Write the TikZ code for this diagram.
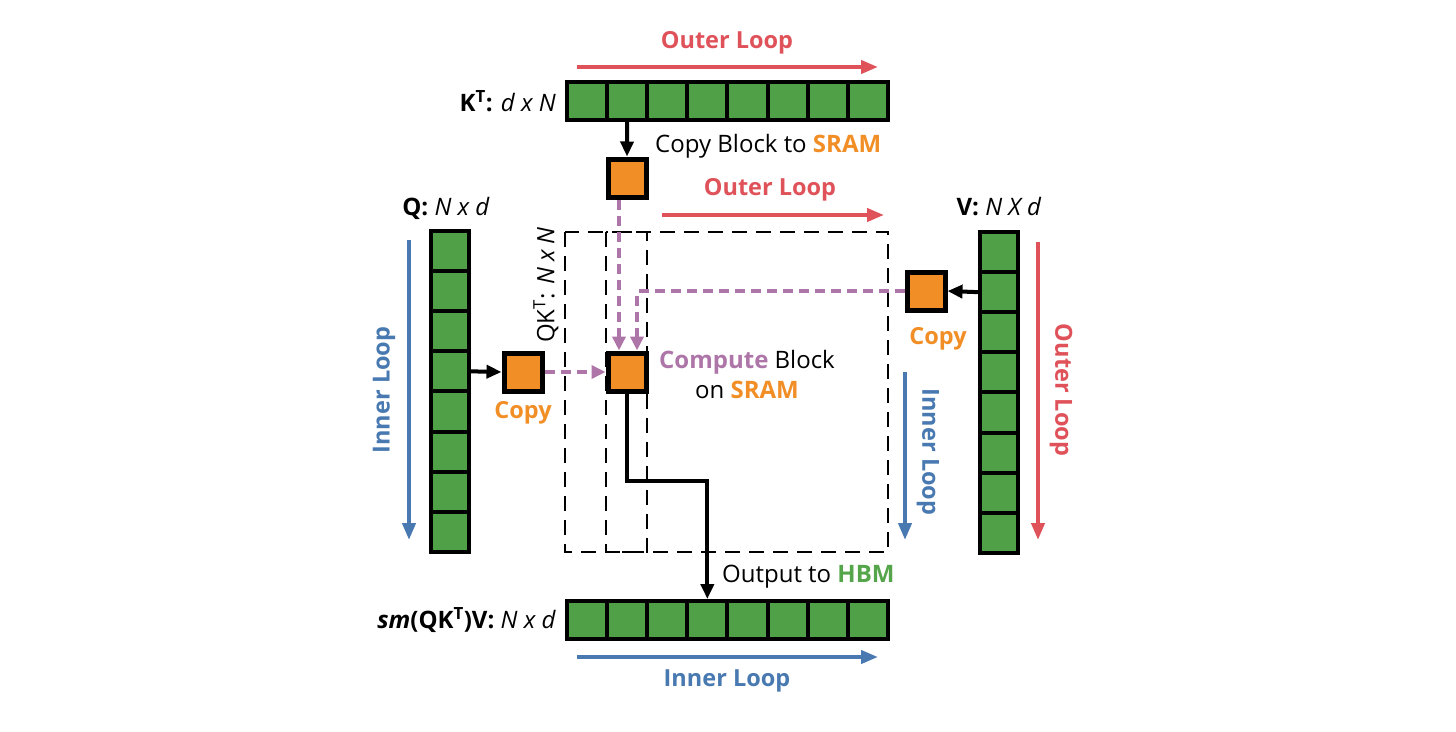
\documentclass[tikz,border=0pt]{standalone}
\usepackage{fontspec}
\setmainfont{Open Sans}
\usetikzlibrary{arrows.meta,calc}
\definecolor{cgreen}{RGB}{80,160,72}
\definecolor{corange}{RGB}{242,142,38}
\definecolor{cred}{RGB}{224,82,90}
\definecolor{cblue}{RGB}{73,121,177}
\definecolor{cpurple}{RGB}{174,118,168}
\definecolor{ctgreen}{RGB}{85,165,75}
\tikzset{
  hcell/.style={draw=black, fill=cgreen, line width=4pt, minimum width=40.1pt, minimum height=38pt, inner sep=0pt},
  vcell/.style={draw=black, fill=cgreen, line width=4pt, minimum width=38pt, minimum height=40.1pt, inner sep=0pt},
  sq/.style={draw=black, fill=corange, line width=5pt, minimum size=38pt, inner sep=0pt},
  conn/.style={draw=black, line width=4pt, -{Triangle[length=15pt,width=13pt]}},
  pdash/.style={draw=cpurple, line width=4.5pt, dash pattern=on 10pt off 6pt, -{Triangle[length=14pt,width=13pt]}},
  bdash/.style={draw=black, line width=2.2pt, dash pattern=on 15pt off 9pt},
  loopred/.style={draw=cred, line width=4pt, -{Triangle[length=17pt,width=13pt]}},
  loopblue/.style={draw=cblue, line width=4pt, -{Triangle[length=17pt,width=13pt]}},
  lbl/.style={font=\fontsize{24}{30}\selectfont, inner sep=0pt},
  blbl/.style={font=\fontsize{23.5}{30}\selectfont\bfseries, inner sep=0pt},
}
\begin{document}
\begin{tikzpicture}[x=1pt,y=-1pt]
\useasboundingbox[fill=white] (0,0) rectangle (1456,731);

% dashed QK^T regions
\draw[bdash] (565,232) rectangle (888,552);
\draw[bdash] (606,232) rectangle (647,552);

% bars
\foreach \i in {1,...,8} {
  \node[hcell] (k\i) at ({567+40.1*(\i-0.5)},101) {};
  \node[hcell] (o\i) at ({567+40.1*(\i-0.5)},620) {};
  \node[vcell] (q\i) at (450,{231+40.1*(\i-0.5)}) {};
  \node[vcell] (v\i) at (999,{232+40.1*(\i-0.5)}) {};
}

% SRAM blocks
\node[sq] (kc) at (627,178) {};
\node[sq] (qc) at (523,372) {};
\node[sq] (cb) at (627,372) {};
\node[sq] (vc) at (926,291) {};

% connectors
\draw[conn] (k2.south) -- (kc.north);
\draw[conn] (q4.east) -- (qc.west);
\draw[conn] (v2.west) -- (vc.east);
\draw[pdash] ($(kc.south)+(-8,0)$) -- ($(cb.north)+(-8,0)$);
\draw[pdash] (vc.west) -| ($(cb.north)+(10,0)$);
\draw[pdash] (qc.east) -- (cb.west);
\draw[conn] (cb.south) -- ++(0,87) -| (o4.north);

% loop arrows
\coordinate (t1a) at (577,67); \coordinate (t1b) at (878,67);
\draw[loopred] (t1a) -- (t1b);
\coordinate (t2a) at (662,215); \coordinate (t2b) at (884,215);
\draw[loopred] (t2a) -- (t2b);
\coordinate (r1a) at (1038,242); \coordinate (r1b) at (1038,540);
\draw[loopred] (r1a) -- (r1b);
\coordinate (l1a) at (409,240); \coordinate (l1b) at (409,540);
\draw[loopblue] (l1a) -- (l1b);
\coordinate (i1a) at (905,372); \coordinate (i1b) at (905,540);
\draw[loopblue] (i1a) -- (i1b);
\coordinate (b1a) at (577,657); \coordinate (b1b) at (878,657);
\draw[loopblue] (b1a) -- (b1b);

% labels
\node[blbl, text=cred] (tOuter1) at (727,43) {Outer Loop};
\node[blbl, text=cred] (tOuter2) at (770,190) {Outer Loop};
\node[blbl, text=cred, rotate=-90] (tOuter3) at (1061,390) {Outer Loop};
\node[blbl, text=cblue, rotate=90] (tInner1) at (384,390) {Inner Loop};
\node[blbl, text=cblue, rotate=-90] (tInner2) at (928,452) {Inner Loop};
\node[blbl, text=cblue] (tInner3) at (727,681) {Inner Loop};

\node[lbl, anchor=east] (tK) at (556,101) {\textbf{K\textsuperscript{T}:} \textit{d x N}};
\node[lbl] (tQ) at (446,208) {\textbf{Q:} \textit{N x d}};
\node[lbl] (tV) at (999,207) {\textbf{V:} \textit{N X d}};
\node[lbl, rotate=90] (tQK) at (546,285) {QK\textsuperscript{T}: \textit{N x N}};
\node[lbl, anchor=east] (tO) at (556,620) {\textbf{\textit{sm}(QK\textsuperscript{T})V:} \textit{N x d}};

\node[lbl, anchor=west] (tCopyBlock) at (655,146) {Copy Block to \textcolor{corange}{\textbf{SRAM}}};
\node[blbl, text=corange] (tCopyQ) at (523,413) {Copy};
\node[blbl, text=corange] (tCopyV) at (938,339) {Copy};
\node[lbl, align=center] (tCompute) at (747,374) {\textcolor{cpurple}{\textbf{Compute}} Block\\on \textcolor{corange}{\textbf{SRAM}}};
\node[lbl, anchor=west] (tOutput) at (722,577) {Output to \textcolor{ctgreen}{\textbf{HBM}}};
\end{tikzpicture}
\end{document}
